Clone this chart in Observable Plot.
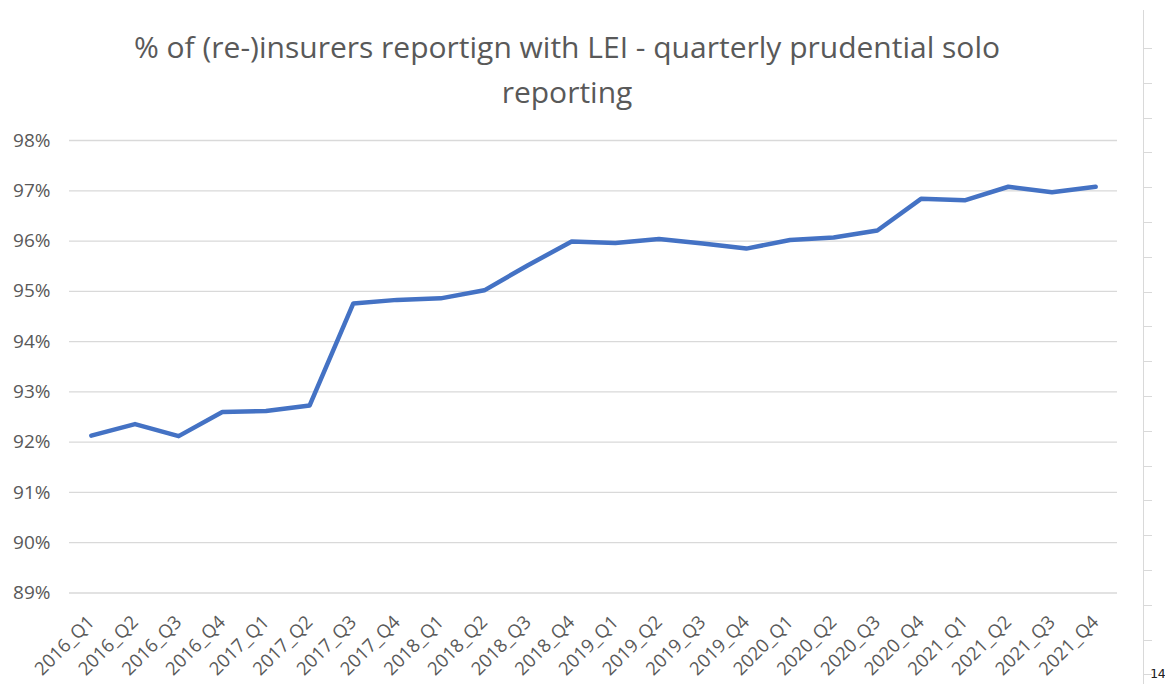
<!DOCTYPE html>
<html><head><meta charset="utf-8">
<script src="https://cdn.jsdelivr.net/npm/d3@7"></script>
<script src="https://cdn.jsdelivr.net/npm/@observablehq/plot@0.6"></script>
<style>
body{margin:0;background:#fff;width:1165px;height:684px;overflow:hidden;position:relative;font-family:"Open Sans",sans-serif;}
#title{position:absolute;left:0;top:0;width:1134px;text-align:center;color:#595959;font-weight:400;font-size:30px;line-height:45px;padding-top:24px;box-sizing:border-box;}
#chart{position:absolute;left:0;top:115px;}
.vline{position:absolute;left:1143px;top:10px;width:1px;height:674px;background:#d9d9d9;}
.tick{position:absolute;left:1143px;width:9px;height:1px;background:#d9d9d9;}
#pg{position:absolute;left:1150px;top:666px;font-family:"DejaVu Sans Mono",monospace;font-size:13px;color:#222;}
</style></head><body>
<div id="title">% of (re-)insurers reportign with LEI - quarterly prudential solo<br>reporting</div>
<div id="chart"></div>
<div class="vline"></div>
<div id="pg">14</div>
<script>
const quarters = ["2016_Q1","2016_Q2","2016_Q3","2016_Q4","2017_Q1","2017_Q2","2017_Q3","2017_Q4",
  "2018_Q1","2018_Q2","2018_Q3","2018_Q4","2019_Q1","2019_Q2","2019_Q3","2019_Q4",
  "2020_Q1","2020_Q2","2020_Q3","2020_Q4","2021_Q1","2021_Q2","2021_Q3","2021_Q4"];
const shares = [0.9213,0.9236,0.9212,0.9260,0.9262,0.9273,0.9476,0.9483,
  0.9486,0.9502,0.9552,0.9599,0.9596,0.9604,0.9595,0.9585,
  0.9602,0.9607,0.9621,0.9684,0.9681,0.9708,0.9697,0.9708];
const yTicks = [0.89,0.90,0.91,0.92,0.93,0.94,0.95,0.96,0.97,0.98];

const data = quarters.map((q,i)=>({q, v: shares[i]}));

const chart = Plot.plot({
  width:1165, height:569,
  marginLeft:69, marginRight:48, marginTop:25, marginBottom:91.5,
  style:{fontFamily:"Open Sans", fontSize:"19px", color:"#595959", background:"transparent"},
  x:{type:"point", domain:quarters, padding:0.5, round:false},
  y:{domain:[0.89,0.98]},
  marks:[
    Plot.gridY(yTicks,{stroke:"#d9d9d9", strokeOpacity:1, strokeWidth:1.3}),
    Plot.axisY(yTicks,{tickSize:0, tickPadding:19, label:null, tickFormat:d=>Math.round(d*100)+"%", fill:"#595959", fontSize:19}),
    Plot.axisX(quarters,{tickSize:0, tickRotate:-45, tickPadding:26, label:null, fill:"#595959", fontSize:18.5}),
    Plot.lineY(data,{x:"q", y:"v", stroke:"#4472C4", strokeWidth:4.5, strokeLinecap:"round", strokeLinejoin:"round"})
  ]
});
document.getElementById("chart").appendChild(chart);

// worksheet edge ticks (screenshot decoration)
for (let k=0;k<19;k++){
  const t=document.createElement("div");
  t.className="tick"; t.style.top=(48+k*34.8)+"px";
  document.body.appendChild(t);
}
</script>
</body></html>
